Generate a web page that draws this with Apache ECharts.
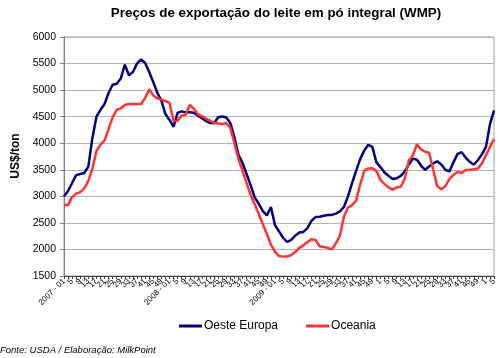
<!DOCTYPE html>
<html><head><meta charset="utf-8">
<script src="https://cdn.jsdelivr.net/npm/echarts@6/dist/echarts.min.js"></script>
<style>html,body{margin:0;padding:0;background:#fff}#c{width:499px;height:358px}</style>
</head><body><div id="c"></div>
<script>
const years = [2007, 2008, 2009, 2010];
const weeksPerYear = [1,3,5,7,9,11,13,15,17,19,21,23,25,27,29,31,33,35,37,39,41,43,45,47,49,51];
const lastYearWeeks = [1,3,5];
const yearLabels = ['2007 - 01','2008 - 01','2009 - 01','1','1'];
const categories = [];
years.forEach((y, yi) => weeksPerYear.forEach(w => categories.push(w === 1 ? yearLabels[yi] : String(w))));
lastYearWeeks.forEach(w => categories.push(w === 1 ? yearLabels[4] : String(w)));

const oesteEuropa = [3000,3100,3250,3400,3420,3440,3560,4100,4500,4630,4740,4950,5100,5120,5220,5480,5280,5340,5500,5580,5510,5340,5150,4950,4800,4550,4440,4310,4570,4600,4585,4585,4575,4520,4470,4420,4380,4375,4490,4505,4485,4380,4110,3780,3630,3420,3210,2980,2860,2720,2640,2800,2460,2340,2220,2140,2180,2260,2320,2330,2400,2540,2610,2615,2635,2650,2650,2675,2715,2800,3000,3250,3480,3700,3860,3970,3930,3640,3550,3450,3385,3325,3340,3385,3470,3600,3710,3690,3580,3500,3560,3620,3660,3600,3500,3470,3640,3800,3830,3730,3650,3595,3680,3790,3930,4360,4620];
const oceania = [2835,2835,2990,3050,3080,3150,3290,3520,3850,3975,4050,4270,4490,4630,4655,4720,4740,4740,4740,4740,4850,5015,4900,4845,4820,4795,4760,4420,4425,4520,4535,4720,4650,4545,4510,4465,4425,4385,4370,4360,4380,4290,4000,3700,3480,3250,3030,2850,2670,2480,2290,2090,1960,1875,1865,1865,1895,1950,2030,2080,2140,2190,2180,2060,2045,2030,2000,2115,2260,2620,2790,2835,2920,3220,3480,3525,3530,3480,3310,3230,3170,3125,3170,3180,3330,3680,3770,3980,3885,3840,3820,3500,3190,3135,3190,3330,3405,3460,3440,3495,3500,3510,3525,3620,3770,3930,4080];

const FONT = 'Liberation Sans, Arial, sans-serif';
const chart = echarts.init(document.getElementById('c'), null, {renderer: 'canvas'});
chart.setOption({
  backgroundColor: '#fff',
  animation: false,
  title: {
    text: 'Preços de exportação do leite em pó integral (WMP)',
    left: 271, top: 2, textAlign: 'center',
    textStyle: {fontFamily: FONT, fontSize: 13.4, fontWeight: 'bold', color: '#000'}
  },
  legend: {
    bottom: 21, left: 174,
    itemWidth: 23, itemHeight: 3, itemGap: 28,
    icon: 'rect',
    textStyle: {fontFamily: FONT, fontSize: 12, color: '#000', padding: [0,0,0,-3]},
    data: ['Oeste Europa', 'Oceania']
  },
  graphic: [
    {type: 'text', left: 0, top: 345, style: {text: 'Fonte: USDA / Elaboração: MilkPoint', font: 'italic 9.5px Liberation Sans, Arial', fill: '#000'}},
    {type: 'text', x: 16, y: 156, rotation: Math.PI/2, style: {text: 'US$/ton', font: 'bold 12px Liberation Sans, Arial', fill: '#000', align: 'center', verticalAlign: 'middle'}}
  ],
  grid: {left: 64, right: 1, top: 37, bottom: 82, show: true, borderColor: '#a0a0a0', borderWidth: 1},
  xAxis: {
    type: 'category', data: categories, boundaryGap: false,
    axisLine: {lineStyle: {color: '#404040', width: 1}},
    axisTick: {show: true, interval: 0, length: 3, inside: false, lineStyle: {color: '#404040'}},
    axisLabel: {interval: 1, rotate: 45, fontSize: 8, fontFamily: FONT, color: '#000', margin: 4},
    splitLine: {show: false}
  },
  yAxis: {
    type: 'value', min: 1500, max: 6000, interval: 500,
    axisLine: {show: true, lineStyle: {color: '#808080', width: 1}},
    axisTick: {show: true, length: 4, lineStyle: {color: '#808080'}},
    axisLabel: {fontSize: 10.5, fontFamily: FONT, color: '#000', margin: 8, formatter: v => String(v)},
    splitLine: {show: true, lineStyle: {color: '#b4b4b4', width: 1}}
  },
  series: [
    {name: 'Oeste Europa', type: 'line', data: oesteEuropa, symbol: 'none', lineStyle: {color: '#000080', width: 2.5}, itemStyle: {color: '#000080'}},
    {name: 'Oceania', type: 'line', data: oceania, symbol: 'none', lineStyle: {color: '#ff3333', width: 2.5}, itemStyle: {color: '#ff3333'}}
  ]
});
</script></body></html>
